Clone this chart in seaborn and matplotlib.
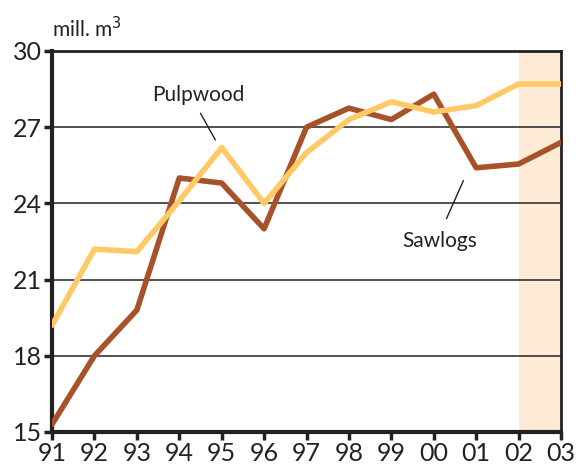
import matplotlib
matplotlib.use("Agg")
import matplotlib.pyplot as plt
import seaborn as sns
import pandas as pd

years = ["91", "92", "93", "94", "95", "96", "97", "98", "99", "00", "01", "02", "03"]
pulpwood = [19.2, 22.2, 22.1, 24.1, 26.2, 24.0, 26.0, 27.3, 28.0, 27.6, 27.85, 28.7, 28.7]
sawlogs = [15.3, 18.0, 19.8, 25.0, 24.8, 23.0, 27.0, 27.75, 27.3, 28.3, 25.4, 25.55, 26.4]
y_ticks = [15, 18, 21, 24, 27, 30]

sns.set_theme(style="white")
plt.rcParams['font.family'] = ['Lato', 'DejaVu Sans']

df = pd.DataFrame({"x": list(range(len(years))) * 2,
                   "value": pulpwood + sawlogs,
                   "series": ["Pulpwood"] * len(years) + ["Sawlogs"] * len(years)})

fig = plt.figure(figsize=(5.78, 4.69), dpi=100)
ax = fig.add_axes([0.09, 0.0789, 0.8806, 0.8124])

ax.axvspan(11, 12, color="#FDEBD5", zorder=0, lw=0)
for t in y_ticks[1:-1]:
    ax.axhline(t, color="#333333", lw=1.2, zorder=1)

sns.lineplot(data=df, x="x", y="value", hue="series",
             palette={"Pulpwood": "#FFC966", "Sawlogs": "#A8522A"},
             hue_order=["Sawlogs", "Pulpwood"],
             linewidth=4, ax=ax, legend=False, zorder=3)

ax.set_xlim(0, 12)
ax.set_ylim(15, 30)
ax.set_xticks(range(len(years)))
ax.set_xticklabels(years)
ax.set_yticks(y_ticks)
ax.set_xlabel("")
ax.set_ylabel("")

for s in ["left", "bottom"]:
    ax.spines[s].set_linewidth(3)
    ax.spines[s].set_color("#222222")
for s in ["top", "right"]:
    ax.spines[s].set_linewidth(2)
    ax.spines[s].set_color("#222222")

ax.tick_params(axis="both", which="both", direction="out", length=6, width=2.5,
               color="#222222", labelsize=18, labelcolor="#222222")
ax.tick_params(axis="x", pad=1)
ax.tick_params(axis="y", pad=1)
ax.xaxis.set_ticks_position("bottom")
ax.yaxis.set_ticks_position("left")

ax.text(0.0, 1.025, "mill. m$^3$", transform=ax.transAxes, fontsize=15,
        color="#222222", ha="left", va="bottom")

ax.text(3.45, 28.25, "Pulpwood", fontsize=15, color="#222222", ha="center", va="center")
ax.plot([3.5, 3.85], [27.55, 26.5], color="#222222", lw=1)

ax.text(9.15, 22.5, "Sawlogs", fontsize=15, color="#222222", ha="center", va="center")
ax.plot([9.7, 9.3], [24.9, 23.4], color="#222222", lw=1)

fig.savefig("out.png", dpi=100)
